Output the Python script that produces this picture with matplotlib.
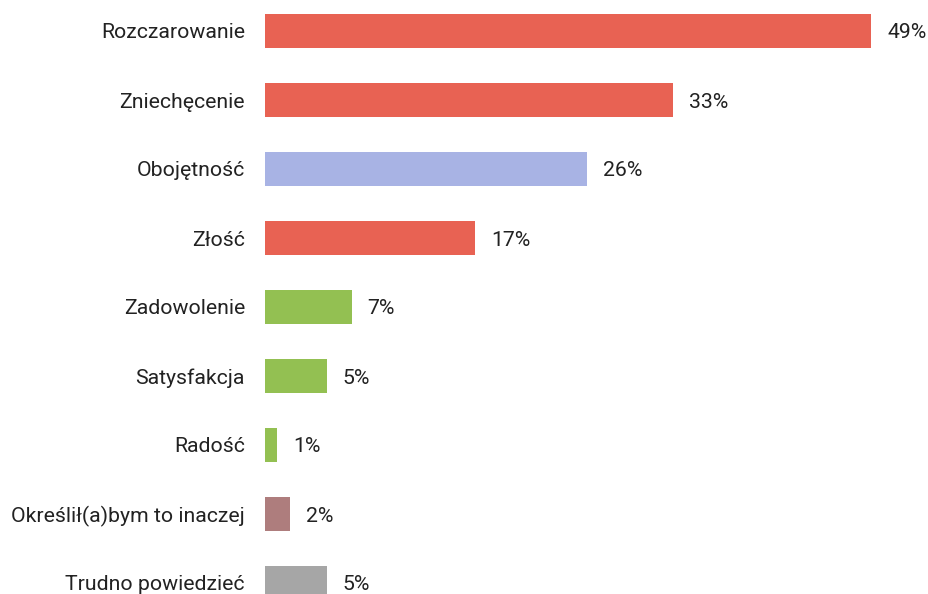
import matplotlib
matplotlib.use("Agg")
import matplotlib.pyplot as plt

categories = ["Rozczarowanie", "Zniechęcenie", "Obojętność", "Złość", "Zadowolenie",
              "Satysfakcja", "Radość", "Określił(a)bym to inaczej", "Trudno powiedzieć"]
values = [49, 33, 26, 17, 7, 5, 1, 2, 5]
colors = ["#E86253", "#E86253", "#A8B3E4", "#E86253", "#93C052",
          "#93C052", "#93C052", "#AE7D7D", "#A6A6A6"]

plt.rcParams['font.family'] = ['Roboto', 'DejaVu Sans']

W, H = 929, 594
fig = plt.figure(figsize=(W / 100, H / 100), dpi=100)
# axes placed in pixel terms; bottom row is cut by the figure edge like the original
left_px, top_px, bottom_px, right_px = 265, -3.5, 617.5, 920.6
ax = fig.add_axes([left_px / W, (H - bottom_px) / H,
                   (right_px - left_px) / W, (bottom_px - top_px) / H])

ypos = list(range(len(categories)))
ax.barh(ypos, values, height=0.493, color=colors)
ax.set_xlim(0, 53)
ax.set_ylim(len(categories) - 0.5, -0.5)

for y, v in zip(ypos, values):
    ax.annotate(f"{v}%", (v, y), xytext=(16, -2), textcoords="offset pixels",
                va="center", ha="left", fontsize=15.3, color="#222222")

ax.set_yticks(ypos)
ax.set_yticklabels(categories, fontsize=15.3, color="#222222")
ax.tick_params(axis="y", length=0, pad=14.4)
ax.set_xticks([])
for s in ax.spines.values():
    s.set_visible(False)

fig.savefig("out.png", dpi=100)
